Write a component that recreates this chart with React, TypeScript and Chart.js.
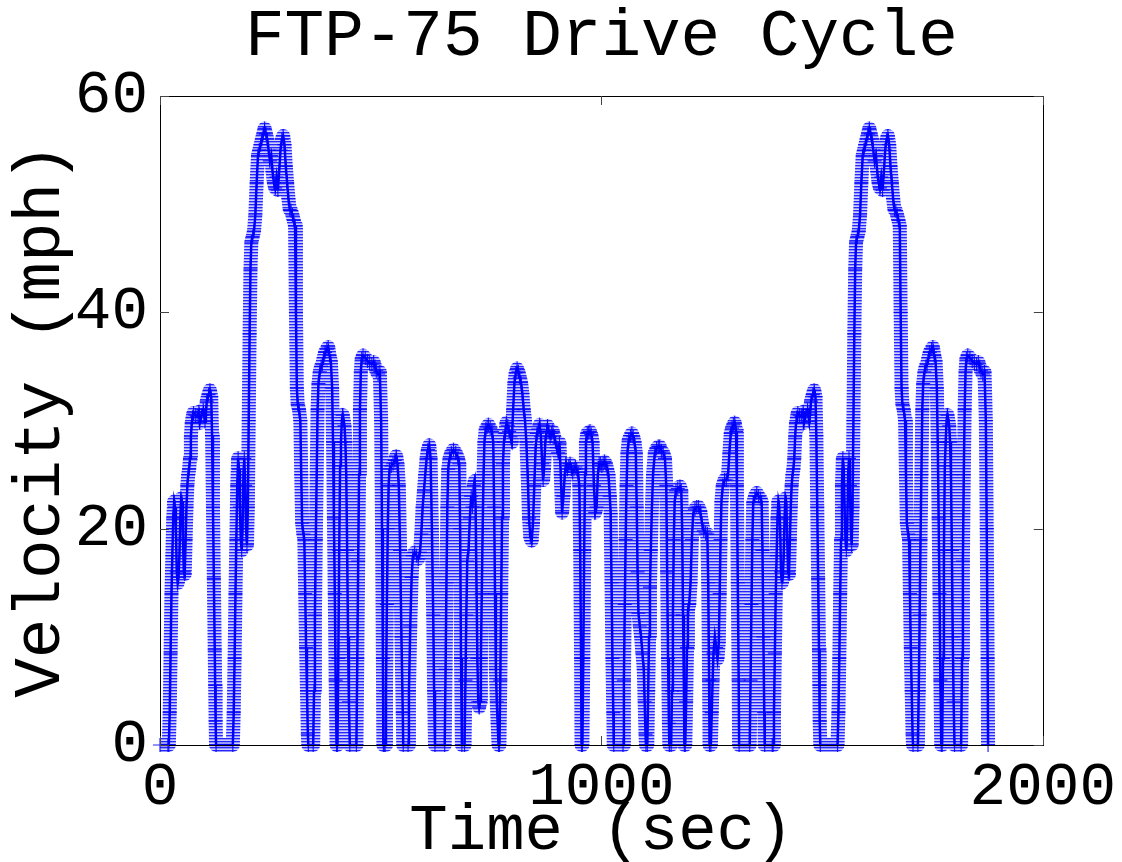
import { useEffect, useRef } from 'react';
import { Chart, registerables } from 'chart.js';

Chart.register(...registerables);

const FONT = '"Liberation Mono", "DejaVu Sans Mono", monospace';

const chartTitle = 'FTP-75 Drive Cycle';
const xAxisTitle = 'Time (sec)';
const yAxisTitle = 'Velocity (mph)';
const xTickValues = [0, 1000, 2000];
const yTickValues = [0, 20, 40, 60];

// Cold-start phase (seconds, mph)
const coldTime = [
  0, 18, 20, 22, 24, 26, 28, 30, 32, 34,
  36, 38, 40, 42, 44, 46, 48, 50, 52, 54,
  56, 58, 60, 62, 64, 66, 68, 70, 72, 74,
  76, 80, 84, 88, 90, 94, 98, 100, 102, 104,
  106, 110, 113, 116, 118, 120, 122, 124, 125, 126,
  127, 165, 167, 169, 171, 173, 175, 177, 179, 181,
  183, 185, 187, 189, 191, 193, 195, 197, 199, 201,
  203, 205, 207, 210, 213, 216, 219, 222, 225, 228,
  231, 234, 237, 240, 243, 246, 249, 252, 255, 258,
  261, 264, 267, 270, 273, 276, 279, 282, 285, 288,
  291, 294, 297, 300, 303, 306, 308, 310, 312, 315,
  318, 320, 322, 325, 327, 329, 331, 333, 335, 336,
  347, 349, 351, 353, 355, 357, 359, 362, 365, 368,
  371, 374, 378, 381, 384, 387, 390, 392, 394, 396,
  398, 400, 402, 404, 406, 408, 410, 412, 414, 416,
  418, 420, 422, 424, 426, 428, 430, 445, 447, 449,
  451, 453, 455, 457, 460, 465, 470, 475, 480, 484,
  487, 490, 494, 498, 501, 503, 505, 506,
];
const coldSpeed = [
  0, 0, 0, 3, 8.5, 14, 17.5, 21, 22.5, 22,
  20, 16, 15, 15.5, 17.5, 21, 22.8, 22.5, 19, 16,
  15.8, 19, 22, 24, 25, 25.5, 26.5, 28.5, 29.8, 30.3,
  30.7, 30.5, 30.4, 30.8, 29.8, 30.5, 31, 30.5, 29.9, 30.7,
  31.8, 32.4, 32.8, 32.2, 28.6, 22, 15.4, 8.8, 5.5, 2.2,
  0, 0, 3, 8, 14, 19, 24, 26.5, 25.5, 22,
  19, 18, 20, 25, 26.5, 24, 20, 18.5, 22, 30,
  38, 44, 46.5, 47, 47.5, 49, 52, 54.5, 55, 55.5,
  56, 56.5, 57, 56.5, 56, 55, 54, 54.5, 53, 52,
  51.5, 52.5, 51.3, 53, 55, 56, 56.3, 55.5, 53.5, 52,
  50.5, 49.5, 49.4, 49, 48.5, 48, 40, 33, 31.5, 31,
  30, 25, 20.5, 19.5, 19, 14, 9, 5, 1, 0,
  0, 5, 12, 19, 25, 31, 33.4, 34.5, 35, 35.2,
  35.8, 36.3, 36.6, 36.8, 36, 35.5, 33, 28, 21, 14,
  6, 0, 0, 8, 18, 25.8, 28, 30, 30.5, 30,
  29.5, 28, 25, 18, 10, 4, 0, 0, 8, 17,
  25, 31, 34.5, 35.7, 36, 35.8, 35.5, 35.3, 35.2, 35.4,
  35, 34.6, 34.3, 34.5, 30, 20, 8, 0,
];

// Transient phase
const transientTime = [
  508, 510, 512, 514, 516, 518, 520, 524, 528, 532,
  535, 538, 541, 544, 547, 550, 551, 562, 564, 567,
  570, 573, 577, 581, 585, 589, 592, 595, 598, 601,
  604, 607, 610, 613, 616, 619, 621, 623, 645, 647,
  649, 651, 653, 656, 660, 665, 670, 675, 678, 680,
  682, 684, 690, 692, 694, 696, 699, 702, 705, 708,
  711, 713, 715, 717, 719, 721, 723, 725, 727, 729,
  731, 733, 735, 738, 741, 744, 748, 752, 755, 757,
  759, 761, 763, 765, 767, 769, 771, 773, 775, 777,
  779, 782, 785, 788, 791, 794, 797, 800, 803, 806,
  809, 812, 815, 818, 821, 824, 827, 830, 833, 836,
  839, 842, 845, 848, 851, 854, 857, 860, 863, 866,
  868, 870, 873, 876, 878, 881, 884, 887, 890, 893,
  896, 899, 902, 905, 908, 911, 914, 917, 920, 923,
  926, 929, 932, 935, 938, 941, 944, 947, 950, 952,
  954, 955, 957, 959, 961, 963, 965, 968, 971, 974,
  977, 980, 983, 986, 989, 992, 995, 998, 1001, 1004,
  1007, 1010, 1013, 1016, 1019, 1021, 1023, 1025, 1027, 1028,
  1049, 1051, 1053, 1055, 1057, 1059, 1062, 1066, 1069, 1072,
  1075, 1078, 1080, 1082, 1084, 1087, 1090, 1093, 1096, 1098,
  1100, 1101, 1104, 1106, 1108, 1110, 1112, 1114, 1117, 1121,
  1125, 1129, 1132, 1136, 1140, 1144, 1147, 1149, 1151, 1153,
  1154, 1158, 1160, 1162, 1164, 1166, 1169, 1173, 1178, 1181,
  1183, 1185, 1187, 1188, 1190, 1192, 1194, 1196, 1199, 1202,
  1205, 1208, 1212, 1216, 1220, 1224, 1228, 1232, 1236, 1240,
  1242, 1244, 1245, 1248, 1250, 1252, 1254, 1257, 1260, 1263,
  1266, 1268, 1270, 1272, 1275, 1279, 1283, 1287, 1290, 1293,
  1296, 1299, 1302, 1305, 1307, 1309, 1311, 1312, 1336, 1338,
  1340, 1342, 1344, 1348, 1352, 1356, 1360, 1363, 1365, 1367,
  1369, 1370,
];
const transientSpeed = [
  0, 0, 5, 13, 20, 24, 25.5, 25.8, 26, 26.3,
  26.7, 26, 24, 18, 10, 3, 0, 0, 5, 11,
  15.5, 17.5, 17.8, 17.5, 17.2, 17.8, 19.5, 22, 23.5, 25,
  26.5, 27.3, 27.7, 26.5, 20, 12, 5, 0, 0, 7,
  15, 22, 25.5, 26.5, 27, 27.3, 27, 26.5, 26, 20,
  8, 0, 0, 6, 12, 17, 18, 21, 23, 22,
  24, 24.4, 22, 15, 8, 4, 3.5, 4, 8, 14,
  20, 25, 28, 29.2, 29.4, 29.6, 29.3, 29, 28, 22,
  14, 7, 4, 2, 0, 0, 6, 14, 21, 26,
  28, 28.8, 29.8, 29.5, 29, 28.5, 28, 31, 33.5, 34.4,
  34.8, 34.5, 34, 33.5, 32.5, 31, 30, 28, 25, 21,
  19.2, 18.9, 20.5, 24, 27.5, 28.8, 29.2, 29.6, 28.5, 26,
  24.5, 25.5, 28, 29, 29.5, 29, 28.5, 28.8, 29, 28.5,
  28, 27.5, 27, 27.9, 25, 21.5, 23, 25, 26, 25.5,
  25.8, 26, 25.5, 25.2, 25.5, 25.7, 25.5, 25.2, 24, 18,
  8, 0, 0, 8, 18, 25, 28, 28.8, 28.9, 29,
  28.7, 28, 24, 21.5, 22, 25, 26, 26, 25.8, 26,
  26.2, 26, 25.5, 25, 23, 21.4, 15, 8, 3, 0,
  0, 6, 13, 19, 24, 27, 28.2, 28.6, 28.8, 28.5,
  28, 27, 22, 16, 12.2, 11, 10, 8.5, 7, 4,
  1, 0, 0, 5, 10, 14.6, 18, 21.4, 25, 27,
  27.4, 27.6, 27.6, 27.2, 27, 26.5, 24, 16, 8, 2,
  0, 0, 5, 12, 19, 22.5, 23.5, 23.7, 23.9, 23.5,
  20, 12, 5, 0, 0, 4, 9, 12.5, 13, 15,
  19, 21.4, 21.8, 22, 22, 21.6, 20.5, 19.8, 19.6, 19.5,
  15, 6, 0, 0, 3, 6, 8.5, 10, 9, 8,
  9.5, 14, 19, 22.5, 24, 24.5, 24.5, 25, 27, 28.8,
  29.3, 29.6, 29.8, 29, 24, 15, 6, 0, 0, 6,
  13, 19, 22.4, 23, 23.3, 23, 22.8, 22.5, 18, 10,
  3, 0,
];

// Hot-start phase
const hotTime = [
  1387, 1389, 1391, 1393, 1395, 1397, 1399, 1401, 1403, 1405,
  1407, 1409, 1411, 1413, 1415, 1417, 1419, 1421, 1423, 1425,
  1427, 1429, 1431, 1433, 1435, 1437, 1439, 1441, 1443, 1445,
  1449, 1453, 1457, 1459, 1463, 1467, 1469, 1471, 1473, 1475,
  1479, 1482, 1485, 1487, 1489, 1491, 1493, 1494, 1495, 1496,
  1535, 1537, 1539, 1541, 1543, 1545, 1547, 1549, 1551, 1553,
  1555, 1557, 1559, 1561, 1563, 1565, 1567, 1569, 1571, 1573,
  1575, 1577, 1580, 1583, 1586, 1589, 1592, 1595, 1598, 1601,
  1604, 1607, 1610, 1613, 1616, 1619, 1622, 1625, 1628, 1631,
  1634, 1637, 1640, 1643, 1646, 1649, 1652, 1655, 1658, 1661,
  1664, 1667, 1670, 1673, 1676, 1678, 1680, 1682, 1685, 1688,
  1690, 1692, 1695, 1697, 1699, 1701, 1703, 1705, 1706, 1717,
  1719, 1721, 1723, 1725, 1727, 1729, 1732, 1735, 1738, 1741,
  1744, 1748, 1751, 1754, 1757, 1760, 1762, 1764, 1766, 1768,
  1770, 1772, 1774, 1776, 1778, 1780, 1782, 1784, 1786, 1788,
  1790, 1792, 1794, 1796, 1798, 1800, 1815, 1817, 1819, 1821,
  1823, 1825, 1827, 1830, 1835, 1840, 1845, 1850, 1854, 1857,
  1860, 1864, 1868, 1871, 1873, 1875, 1876,
];
const hotSpeed = [
  0, 0, 3, 8.5, 14, 17.5, 21, 22.5, 22, 20,
  16, 15, 15.5, 17.5, 21, 22.8, 22.5, 19, 16, 15.8,
  19, 22, 24, 25, 25.5, 26.5, 28.5, 29.8, 30.3, 30.7,
  30.5, 30.4, 30.8, 29.8, 30.5, 31, 30.5, 29.9, 30.7, 31.8,
  32.4, 32.8, 32.2, 28.6, 22, 15.4, 8.8, 5.5, 2.2, 0,
  0, 3, 8, 14, 19, 24, 26.5, 25.5, 22, 19,
  18, 20, 25, 26.5, 24, 20, 18.5, 22, 30, 38,
  44, 46.5, 47, 47.5, 49, 52, 54.5, 55, 55.5, 56,
  56.5, 57, 56.5, 56, 55, 54, 54.5, 53, 52, 51.5,
  52.5, 51.3, 53, 55, 56, 56.3, 55.5, 53.5, 52, 50.5,
  49.5, 49.4, 49, 48.5, 48, 40, 33, 31.5, 31, 30,
  25, 20.5, 19.5, 19, 14, 9, 5, 1, 0, 0,
  5, 12, 19, 25, 31, 33.4, 34.5, 35, 35.2, 35.8,
  36.3, 36.6, 36.8, 36, 35.5, 33, 28, 21, 14, 6,
  0, 0, 8, 18, 25.8, 28, 30, 30.5, 30, 29.5,
  28, 25, 18, 10, 4, 0, 0, 8, 17, 25,
  31, 34.5, 35.7, 36, 35.8, 35.5, 35.3, 35.2, 35.4, 35,
  34.6, 34.3, 34.5, 30, 20, 8, 0,
];

function toPoints(ts: number[], vs: number[]) {
  const n = Math.min(ts.length, vs.length);
  const out: { x: number; y: number }[] = [];
  for (let i = 0; i < n; i++) out.push({ x: ts[i], y: vs[i] });
  return out;
}

function makeStripePattern(): CanvasPattern | string {
  const c = document.createElement('canvas');
  c.width = 4;
  c.height = 3;
  const g = c.getContext('2d');
  if (!g) return 'rgba(0,0,255,0.55)';
  g.fillStyle = 'rgba(0,0,255,0.85)';
  g.fillRect(0, 0, 4, 1);
  g.fillStyle = 'rgba(60,60,255,0.55)';
  g.fillRect(0, 1, 4, 1);
  g.fillStyle = 'rgba(120,120,255,0.35)';
  g.fillRect(0, 2, 4, 1);
  const p = g.createPattern(c, 'repeat');
  return p || 'rgba(0,0,255,0.55)';
}

export default function App() {
  const ref = useRef<HTMLCanvasElement>(null);

  useEffect(() => {
    if (!ref.current) return;
    const points = [
      ...toPoints(coldTime, coldSpeed),
      ...toPoints(transientTime, transientSpeed),
      ...toPoints(hotTime, hotSpeed),
    ];
    const stripes = makeStripePattern();

    const framePlugin = {
      id: 'matlabFrame',
      afterDraw(chart: any) {
        const { ctx, chartArea } = chart;
        const { left, right, top, bottom } = chartArea;
        const xs = chart.scales.x;
        const ys = chart.scales.y;
        const tl = 9;
        ctx.save();
        ctx.strokeStyle = '#000';
        ctx.lineWidth = 1;
        ctx.strokeRect(Math.round(left) + 0.5, Math.round(top) + 0.5, Math.round(right - left), Math.round(bottom - top));
        ctx.strokeStyle = '#444';
        ctx.beginPath();
        xTickValues.forEach((v) => {
          const px = Math.round(xs.getPixelForValue(v)) + 0.5;
          ctx.moveTo(px, bottom);
          ctx.lineTo(px, bottom - tl);
          ctx.moveTo(px, top);
          ctx.lineTo(px, top + tl);
        });
        yTickValues.forEach((v) => {
          const py = Math.round(ys.getPixelForValue(v)) + 0.5;
          ctx.moveTo(left, py);
          ctx.lineTo(left + tl, py);
          ctx.moveTo(right, py);
          ctx.lineTo(right - tl, py);
        });
        ctx.stroke();
        ctx.restore();
      },
    };

    const chart = new Chart(ref.current, {
      type: 'scatter',
      data: {
        datasets: [
          {
            label: 'band',
            data: points,
            showLine: true,
            borderColor: stripes,
            borderWidth: 14,
            borderJoinStyle: 'round',
            pointRadius: 0,
            clip: false,
            order: 2,
          },
          {
            label: 'Velocity',
            data: points,
            showLine: true,
            borderColor: '#0000ff',
            borderWidth: 2.5,
            pointStyle: 'cross',
            pointRadius: 7,
            pointBorderColor: 'rgba(0,0,255,0.85)',
            pointBorderWidth: 1.2,
            pointBackgroundColor: '#0000ff',
            clip: false,
            order: 1,
          },
        ],
      } as any,
      options: {
        animation: false,
        responsive: true,
        maintainAspectRatio: false,
        events: [],
        layout: { padding: { top: 0, right: 79, bottom: 0, left: 0 } },
        plugins: {
          legend: { display: false },
          tooltip: { enabled: false },
          title: {
            display: true,
            text: chartTitle,
            fullSize: false,
            color: '#000',
            font: { family: FONT, size: 66, weight: 'normal', lineHeight: 1 },
            padding: { top: 5, bottom: 25 },
          },
        },
        scales: {
          x: {
            type: 'linear',
            min: 0,
            max: 2000,
            afterFit: (s: any) => { s.height = 117; },
            grid: { display: false, drawTicks: false },
            border: { display: false },
            ticks: {
              stepSize: 1000,
              autoSkip: false,
              maxRotation: 0,
              padding: 6,
              color: '#000',
              font: { family: FONT, size: 61 },
              callback: (v: any) => String(v),
            },
            title: {
              display: true,
              text: xAxisTitle,
              color: '#000',
              font: { family: FONT, size: 64, lineHeight: 1 },
              padding: { top: 0, bottom: -2 },
            },
          },
          y: {
            type: 'linear',
            min: 0,
            max: 60,
            afterFit: (s: any) => { s.width = 160; },
            grid: { display: false, drawTicks: false },
            border: { display: false },
            ticks: {
              stepSize: 20,
              padding: 12,
              color: '#000',
              font: { family: FONT, size: 61 },
              callback: (v: any) => String(v),
            },
            title: {
              display: true,
              text: yAxisTitle,
              color: '#000',
              font: { family: FONT, size: 66, lineHeight: 1 },
              padding: { top: 9, bottom: 0 },
            },
          },
        },
      } as any,
      plugins: [framePlugin],
    });
    return () => chart.destroy();
  }, []);

  return (
    <div style={{ position: 'fixed', left: 0, top: 0, width: 1122, height: 862, background: '#fff' }}>
      <canvas ref={ref} />
    </div>
  );
}
